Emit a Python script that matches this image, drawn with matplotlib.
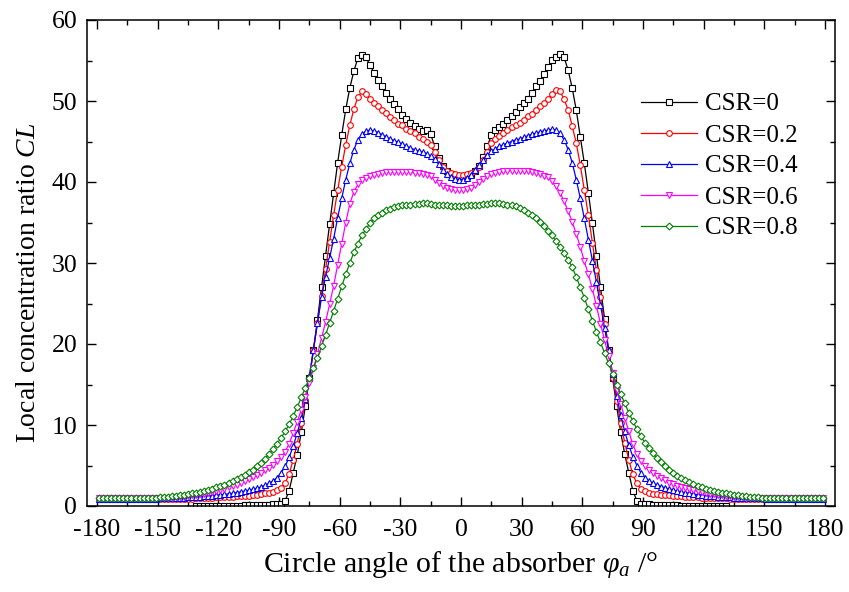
import numpy as np
import matplotlib
matplotlib.use("Agg")
import matplotlib.pyplot as plt

plt.rcParams['font.family'] = ['Liberation Serif', 'DejaVu Serif']
plt.rcParams['mathtext.fontset'] = 'custom'
plt.rcParams['mathtext.rm'] = 'Liberation Serif'
plt.rcParams['mathtext.it'] = 'Liberation Serif:italic'
plt.rcParams['axes.unicode_minus'] = False

nan = np.nan
# circle angle of the absorber (deg), element centres
angle = np.arange(-179, 180, 2)

cl_csr0 = (
    [nan] * 24 + [0.0] * 6 +
    [0.02, 0.03, 0.03, 0.04, 0.05, 0.06, 0.07, 0.08, 0.10, 0.12] +
    [0.14, 0.16, 0.18, 0.2, 0.22, 0.3, 0.65, 1.9, 4.1, 6.3, 9.1, 12.3, 15.8, 19.3, 23.0, 27.0, 30.9, 34.8, 38.6, 42.4] +
    [45.8, 49.0, 51.6, 53.7, 55.3, 55.7, 55.4, 54.4, 53.5, 52.6, 51.8, 51.0, 50.3, 49.6, 49.0,
     48.3, 47.8, 47.3, 46.9, 46.6, 46.3, 46.4, 45.9, 44.4, 43.0, 42.0, 41.4, 41.0, 40.8, 40.7] +
    [40.7, 40.8, 41.0, 41.4, 42.0, 43.1, 44.4, 45.8, 46.4, 46.8, 47.2, 47.7, 48.1, 48.7, 49.3,
     49.7, 50.3, 51.0, 51.8, 52.5, 53.3, 54.2, 55.1, 55.4, 55.8, 55.4, 53.8, 51.6, 48.9, 45.6] +
    [42.3, 38.7, 34.9, 30.9, 27.0, 23.1, 19.3, 15.8, 12.3, 9.1, 6.4, 4.1, 1.9, 0.65, 0.3, 0.22, 0.2, 0.18, 0.16, 0.14] +
    [0.12, 0.10, 0.08, 0.07, 0.06, 0.05, 0.04, 0.03, 0.03, 0.02] +
    [0.0] * 6 + [nan] * 24
)

cl_csr02 = (
    [0.9] * 20 +
    [0.9, 0.9, 0.9, 0.92, 0.94, 0.96, 0.98, 1.0, 1.02, 1.05] +
    [1.08, 1.1, 1.12, 1.15, 1.18, 1.2, 1.24, 1.28, 1.32, 1.38, 1.45, 1.55, 1.65, 1.75, 1.95] +
    [2.2, 2.8, 4.0, 5.7, 7.7, 10.3, 13.1, 15.8, 19.2, 22.6, 25.9, 29.2, 32.6, 35.9, 39.0] +
    [41.9, 44.6, 47.0, 49.0, 50.5, 51.2, 50.9, 50.3, 49.8, 49.4, 48.9, 48.5, 48.0, 47.7, 47.2] +
    [47.0, 46.6, 46.3, 46.0, 45.6, 45.3, 45.0, 44.6, 43.7, 42.7, 41.9, 41.4, 41.1, 41.0, 40.9] +
    [40.9, 41.0, 41.1, 41.4, 41.9, 42.7, 43.7, 44.8, 45.3, 45.7, 46.1, 46.4, 46.8, 47.0, 47.3] +
    [47.7, 48.1, 48.4, 48.9, 49.4, 49.8, 50.3, 50.9, 51.3, 51.2, 50.2, 48.9, 46.9, 44.8, 42.1] +
    [39.0, 35.9, 32.5, 29.1, 25.8, 22.5, 19.1, 15.8, 13.0, 10.3, 7.8, 5.7, 3.9, 2.8, 2.1] +
    [1.8, 1.6, 1.5, 1.45, 1.4, 1.35, 1.3, 1.27, 1.23, 1.2, 1.16, 1.12, 1.09, 1.06, 1.03] +
    [1.0, 0.98, 0.96, 0.95, 0.94, 0.93, 0.92, 0.91, 0.9, 0.9] +
    [0.9] * 20
)

cl_csr04 = (
    [0.92] * 15 +
    [0.93, 0.94, 0.95, 0.97, 0.99] +
    [1.01, 1.03, 1.06, 1.09, 1.12, 1.15, 1.19, 1.23, 1.27, 1.32] +
    [1.37, 1.43, 1.5, 1.57, 1.65, 1.74, 1.84, 1.95, 2.07, 2.2, 2.35, 2.55, 2.8, 3.1, 3.5] +
    [4.1, 4.9, 6.0, 7.4, 9.0, 10.9, 13.2, 16.0, 19.3, 22.6, 25.8, 28.3, 30.6, 33.0, 35.6] +
    [38.0, 40.3, 42.3, 44.0, 45.2, 45.9, 46.3, 46.4, 46.3, 46.1, 45.8, 45.6, 45.3, 45.1, 44.9] +
    [44.7, 44.4, 44.2, 44.0, 43.8, 43.7, 43.5, 43.2, 42.8, 42.2, 41.5, 41.0, 40.6, 40.4, 40.3] +
    [40.3, 40.5, 40.9, 41.5, 42.1, 42.7, 43.3, 43.8, 44.1, 44.4, 44.6, 44.8, 45.0, 45.2, 45.3] +
    [45.5, 45.7, 45.9, 46.0, 46.2, 46.3, 46.4, 46.5, 46.4, 46.0, 45.2, 44.0, 42.4, 40.3, 38.0] +
    [35.5, 32.9, 30.3, 27.6, 24.8, 22.0, 19.3, 16.3, 13.6, 11.2, 9.2, 7.5, 6.1, 5.0, 4.1] +
    [3.5, 3.1, 2.8, 2.6, 2.4, 2.25, 2.1, 1.97, 1.85, 1.74, 1.64, 1.55, 1.47, 1.4, 1.34] +
    [1.29, 1.24, 1.19, 1.15, 1.11, 1.08, 1.05, 1.02, 1.0, 0.98] +
    [0.97, 0.96, 0.95, 0.94, 0.93] + [0.92] * 15
)

cl_csr06 = (
    [0.94] * 15 +
    [0.96, 0.98, 1.01, 1.04, 1.08, 1.12, 1.17, 1.23, 1.3, 1.37, 1.45, 1.54, 1.64, 1.75, 1.87,
     2.0, 2.15, 2.3, 2.45, 2.65, 2.85, 3.05, 3.3, 3.55, 3.8, 4.1, 4.4, 4.7, 5.1, 5.5] +
    [6.0, 6.7, 7.7, 9.0, 10.4, 11.9, 13.5, 15.2, 17.0, 18.8, 20.7, 22.7, 24.9, 27.2] +
    [29.8, 32.4, 35.0, 37.3, 38.8, 39.7, 40.2, 40.5, 40.7, 40.9, 41.0, 41.1, 41.2, 41.2, 41.2, 41.2,
     41.2, 41.2, 41.2, 41.1, 41.1, 41.0, 40.9, 40.7, 40.3, 39.9, 39.5, 39.3, 39.1, 39.0, 39.0] +
    [39.0, 39.1, 39.3, 39.6, 40.0, 40.4, 40.8, 41.0, 41.1, 41.2, 41.3, 41.3, 41.4, 41.4, 41.4,
     41.3, 41.3, 41.2, 41.1, 41.0, 40.8, 40.6, 40.1, 39.5, 38.7, 37.6, 36.4, 35.1, 33.6] +
    [32.0, 30.2, 28.6, 26.8, 24.7, 22.5, 20.5, 18.5, 16.4, 14.3, 12.6, 10.9, 9.2, 7.6, 6.4, 5.6] +
    [5.0, 4.5, 4.1, 3.7, 3.4, 3.15, 2.9, 2.7, 2.5, 2.35, 2.2, 2.05, 1.92, 1.8, 1.7,
     1.61, 1.52, 1.45, 1.38, 1.32, 1.26, 1.2, 1.15, 1.11, 1.07, 1.04, 1.01, 0.99, 0.97, 0.95] +
    [0.94] * 15
)

cl_csr08 = (
    [0.95] * 10 +
    [0.96, 0.97, 0.98, 1.0, 1.02] +
    [1.05, 1.09, 1.14, 1.19, 1.25, 1.31, 1.38, 1.46, 1.55, 1.65, 1.76, 1.88, 2.01, 2.15, 2.3,
     2.47, 2.65, 2.85, 3.07, 3.31, 3.57, 3.85, 4.15, 4.5, 4.9, 5.35, 5.85, 6.4, 7.0, 7.7] +
    [8.4, 9.2, 10.1, 11.1, 12.2, 13.4, 14.6, 15.8, 17.0, 18.3, 19.7, 21.1, 22.6, 24.1, 25.6] +
    [27.1, 28.6, 30.0, 31.3, 32.4, 33.4, 34.2, 34.9, 35.5, 35.9, 36.2, 36.5, 36.7, 36.9, 37.0] +
    [37.1, 37.2, 37.2, 37.3, 37.3, 37.4, 37.4, 37.3, 37.2, 37.2, 37.1, 37.1, 37.0, 37.0, 37.0] +
    [37.0, 37.1, 37.1, 37.2, 37.2, 37.3, 37.3, 37.4, 37.4, 37.4, 37.3, 37.2, 37.1, 37.0, 36.8] +
    [36.5, 36.2, 35.9, 35.5, 35.1, 34.6, 34.0, 33.4, 32.7, 32.0, 31.2, 30.4] +
    [29.5, 28.3, 27.0, 25.7, 24.3, 22.9, 21.5, 20.2, 18.9, 17.6, 16.3, 15.0, 13.8, 12.7, 11.5, 10.5, 9.5, 8.6] +
    [7.8, 7.1, 6.5, 5.9, 5.4, 4.95, 4.5, 4.1, 3.75, 3.45, 3.17, 2.92, 2.7, 2.5, 2.32, 2.16, 2.02, 1.89,
     1.77, 1.66, 1.56, 1.47, 1.39, 1.32, 1.26, 1.2, 1.15, 1.11, 1.07, 1.04, 1.01, 0.99, 0.97, 0.96, 0.95] +
    [0.95] * 10
)

labels = ['CSR=0', 'CSR=0.2', 'CSR=0.4', 'CSR=0.6', 'CSR=0.8']
series = [cl_csr0, cl_csr02, cl_csr04, cl_csr06, cl_csr08]
markers = ['s', 'o', '^', 'v', 'D']
colors = ['#000000', '#ff0000', '#0000ff', '#ff00ff', '#008000']
msizes = [3.7, 4.1, 4.4, 4.4, 3.5]

xticks = [-180, -150, -120, -90, -60, -30, 0, 30, 60, 90, 120, 150, 180]
yticks = [0, 10, 20, 30, 40, 50, 60]

fig = plt.figure(figsize=(8.49, 5.92), dpi=100)
ax = fig.add_axes([87 / 849, 86 / 592, 748 / 849, 486 / 592])

for y, lab, m, c, ms in zip(series, labels, markers, colors, msizes):
    ax.plot(angle, np.array(y, dtype=float), color=c, lw=0.9, marker=m, ms=ms,
            mfc='white', mec=c, mew=0.8, label=lab)

ax.set_xlim(-185, 185)
ax.set_ylim(0, 60)
ax.set_xticks(xticks)
ax.set_xticklabels([str(t) for t in xticks])
ax.set_yticks(yticks)
ax.set_xticks(np.arange(-180, 181, 15), minor=True)
ax.set_yticks(np.arange(0, 61, 5), minor=True)
ax.tick_params(which='both', direction='in', top=True, right=True, width=1.0,
               labelsize=18.5, colors='black')
ax.tick_params(which='major', length=6.5)
ax.tick_params(axis='x', which='major', pad=9)
ax.tick_params(axis='y', which='major', pad=7)
ax.tick_params(which='minor', length=3.5)
for s in ax.spines.values():
    s.set_linewidth(1.1)

ax.set_xlabel(r'Circle angle of the absorber $\varphi_a$ /°', fontsize=21.5, labelpad=6)
ax.set_ylabel(r'Local concentration ratio $CL$', fontsize=20)
ax.yaxis.set_label_coords(-0.062, 0.46)

ax.legend(loc='upper left', bbox_to_anchor=(641 / 849, 1 - 93 / 592),
          bbox_transform=fig.transFigure, frameon=False, fontsize=18,
          handlelength=2.25, handletextpad=0.3, labelspacing=0.34,
          borderpad=0, borderaxespad=0, markerscale=1.0)

fig.savefig('out.png', dpi=100)
